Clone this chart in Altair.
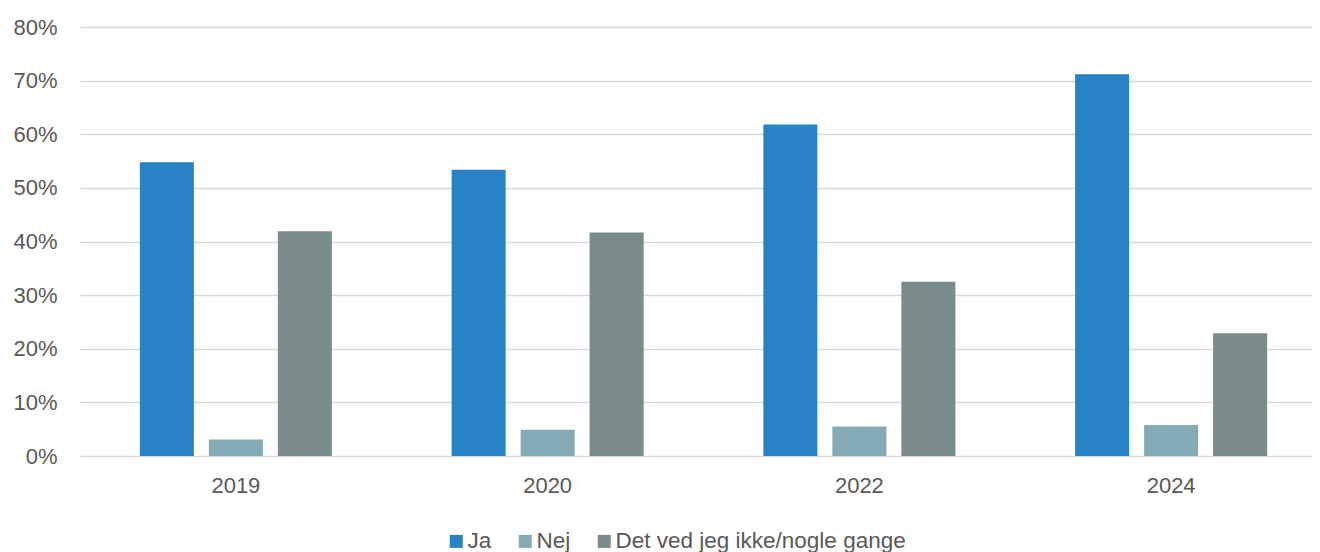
import altair as alt
import pandas as pd

years = ["2019", "2020", "2022", "2024"]
series = ["Ja", "Nej", "Det ved jeg ikke/nogle gange"]
ja = [54.8, 53.4, 61.8, 71.2]
nej = [3.1, 4.9, 5.5, 5.8]
det = [41.9, 41.7, 32.5, 22.9]
colors = ["#2782C6", "#84ABB5", "#7A8B8C"]

rows = []
for i, y in enumerate(years):
    for s, vals in zip(series, [ja, nej, det]):
        rows.append({"year": y, "serie": s, "value": vals[i] / 100})
df = pd.DataFrame(rows)

font = "Liberation Sans"
text_color = "#595959"

chart = alt.Chart(df).mark_bar().encode(
    x=alt.X("year:N", sort=years, title=None,
            scale=alt.Scale(paddingInner=0.336, paddingOuter=0.168, range=[0, 1247]),
            axis=alt.Axis(labelAngle=0, ticks=False, domain=False, labelPadding=19,
                          labelFontSize=22, labelColor=text_color, labelFont=font)),
    xOffset=alt.XOffset("serie:N", sort=series,
                        scale=alt.Scale(paddingInner=0.217, paddingOuter=0.1085)),
    y=alt.Y("value:Q", title=None,
            scale=alt.Scale(domain=[0, 0.8], nice=False),
            axis=alt.Axis(format=".0%", values=[0, 0.1, 0.2, 0.3, 0.4, 0.5, 0.6, 0.7, 0.8],
                          ticks=False, domain=False, labelPadding=23,
                          labelFontSize=22, labelColor=text_color, labelFont=font,
                          gridColor="#D9D9D9", gridWidth=1.5)),
    color=alt.Color("serie:N", sort=series, title=None,
                    scale=alt.Scale(domain=series, range=colors),
                    legend=alt.Legend(orient="none", direction="horizontal",
                                      legendX=365, legendY=503,
                                      symbolType="square", symbolSize=169,
                                      symbolStrokeWidth=0, symbolOpacity=1,
                                      labelFontSize=22.5, labelColor=text_color, labelFont=font,
                                      labelLimit=500, labelOffset=0, columnPadding=22)),
).properties(
    width=1232,
    height=429,
    autosize=alt.AutoSizeParams(type="none"),
    padding={"left": 72, "top": 19, "right": 0, "bottom": 96},
).configure_view(stroke=None)

chart.save("out.html", embed_options={"renderer": "svg", "actions": False})
